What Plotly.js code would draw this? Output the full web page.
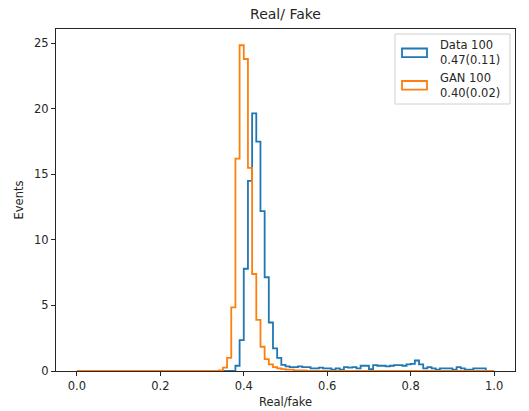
<!DOCTYPE html>
<html>
<head>
<meta charset="utf-8">
<script src="https://cdn.plot.ly/plotly-3.0.1.min.js"></script>
<style>html,body{margin:0;padding:0;background:#fff;}#chart{width:529px;height:411px;}</style>
</head>
<body>
<div id="chart"></div>
<script>
// Histogram bins: 0.00 .. 1.00, width 0.01 (100 bins)
const binStart = 0.0;
const binWidth = 0.01;

// "Data 100" counts per bin (bins starting at 0.00, 0.01, ...)
const dataCounts = [
  0,0,0,0,0,0,0,0,0,0,            // 0.00-0.09
  0,0,0,0,0,0,0,0,0,0,            // 0.10-0.19
  0,0,0,0,0,0,0,0,0,0,            // 0.20-0.29
  0,0,0,0,0,0,0,0,0.4,2.35,       // 0.30-0.39
  7.8,14.5,19.65,17.5,12.2,7.15,3.7,1.73,1.0,0.46, // 0.40-0.49
  0.35,0.3,0.3,0.35,0.3,0.3,0.2,0.2,0.25,0.2,      // 0.50-0.59
  0.2,0.1,0.2,0.1,0.3,0.25,0.3,0.2,0.4,0.4,        // 0.60-0.69
  0.15,0.45,0.4,0.4,0.35,0.4,0.45,0.45,0.4,0.5,    // 0.70-0.79
  0.55,0.8,0.5,0.2,0.3,0.2,0.1,0.2,0.2,0.2,        // 0.80-0.89
  0.1,0.3,0.2,0.1,0.1,0.2,0.2,0.2,0,0              // 0.90-0.99
];

// "GAN 100" counts per bin
const ganCounts = [
  0,0,0,0,0,0,0,0,0,0,
  0,0,0,0,0,0,0,0,0,0,
  0,0,0,0,0,0,0,0,0,0,
  0,0,0,0,0.05,0.25,1.0,4.85,16.2,24.85,
  23.8,15.5,7.4,3.9,1.85,0.9,0.5,0.3,0.2,0.15,
  0.1,0.1,0.05,0.05,0.05,0,0,0,0,0,
  0,0,0,0,0,0,0,0,0,0,
  0,0,0,0,0,0,0,0,0,0,
  0,0,0,0,0,0,0,0,0,0,
  0,0,0,0,0,0,0,0,0,0
];

const seriesNames = ["Data 100", "GAN 100"];
const seriesStats = ["0.47(0.11)", "0.40(0.02)"];
const xTickVals = [0.0, 0.2, 0.4, 0.6, 0.8, 1.0];
const yTickVals = [0, 5, 10, 15, 20, 25];

const BLUE = "#1f77b4", ORANGE = "#ff7f0e";

function stepXY(counts) {
  const xs = [binStart], ys = [0];
  for (let i = 0; i < counts.length; i++) {
    xs.push(binStart + i * binWidth);
    ys.push(counts[i]);
  }
  const end = binStart + counts.length * binWidth;
  xs.push(end); ys.push(counts[counts.length - 1]);
  xs.push(end); ys.push(0);
  return {xs, ys};
}

const d = stepXY(dataCounts), g = stepXY(ganCounts);
const traces = [
  {type: "scatter", mode: "lines", x: d.xs, y: d.ys, line: {shape: "hv", color: BLUE, width: 1.8}, showlegend: false, hoverinfo: "skip"},
  {type: "scatter", mode: "lines", x: g.xs, y: g.ys, line: {shape: "hv", color: ORANGE, width: 1.8}, showlegend: false, hoverinfo: "skip"}
];

const FONT = "DejaVu Sans, sans-serif";
const axisCommon = {
  showline: true, mirror: true, linecolor: "#262626", linewidth: 1,
  ticks: "outside", ticklen: 4, tickwidth: 1, tickcolor: "#262626",
  showgrid: false, zeroline: false,
  tickfont: {family: FONT, size: 11.5, color: "#262626"}
};

const mL = 56, mR = 14, mT = 29, mB = 40;
const layout = {
  width: 529, height: 411,
  margin: {l: mL, r: mR, t: mT, b: mB, pad: 0},
  paper_bgcolor: "#fff", plot_bgcolor: "#fff",
  title: {text: "Real/ Fake", font: {family: FONT, size: 14, color: "#262626"}, x: 0.5, xref: "paper", y: 0.965, yanchor: "middle"},
  xaxis: Object.assign({}, axisCommon, {
    range: [-0.05, 1.05], tickvals: xTickVals, tickformat: ".1f",
    title: {text: "Real/fake", font: {family: FONT, size: 11.5, color: "#262626"}, standoff: 6}
  }),
  yaxis: Object.assign({}, axisCommon, {
    range: [0, 26.09], tickvals: yTickVals,
    title: {text: "Events", font: {family: FONT, size: 11.5, color: "#262626"}, standoff: 8}
  }),
  shapes: [],
  annotations: []
};

// Manual matplotlib-style legend, pixel positions converted to paper coords
const plotW = 529 - mL - mR, plotH = 411 - mT - mB;
const px = x => (x - mL) / plotW;
const py = y => 1 - (y - mT) / plotH;

layout.shapes.push({type: "rect", xref: "paper", yref: "paper", x0: px(395), x1: px(510), y0: py(104), y1: py(34),
  line: {color: "#d0d0d0", width: 1}, fillcolor: "rgba(255,255,255,0.8)", layer: "above"});
const legColors = [BLUE, ORANGE];
const rowY = [52.8, 85.3];
for (let i = 0; i < 2; i++) {
  layout.shapes.push({type: "rect", xref: "paper", yref: "paper", x0: px(402), x1: px(427), y0: py(rowY[i] + 4.3), y1: py(rowY[i] - 4.3),
    line: {color: legColors[i], width: 1.8}, fillcolor: "rgba(0,0,0,0)", layer: "above"});
  layout.annotations.push({xref: "paper", yref: "paper", x: px(438), y: py(rowY[i]), xanchor: "left", yanchor: "middle",
    text: seriesNames[i] + "<br>" + seriesStats[i], showarrow: false, align: "left",
    font: {family: FONT, size: 11.5, color: "#262626"}});
}

Plotly.newPlot("chart", traces, layout, {displayModeBar: false, staticPlot: true});
</script>
</body>
</html>
